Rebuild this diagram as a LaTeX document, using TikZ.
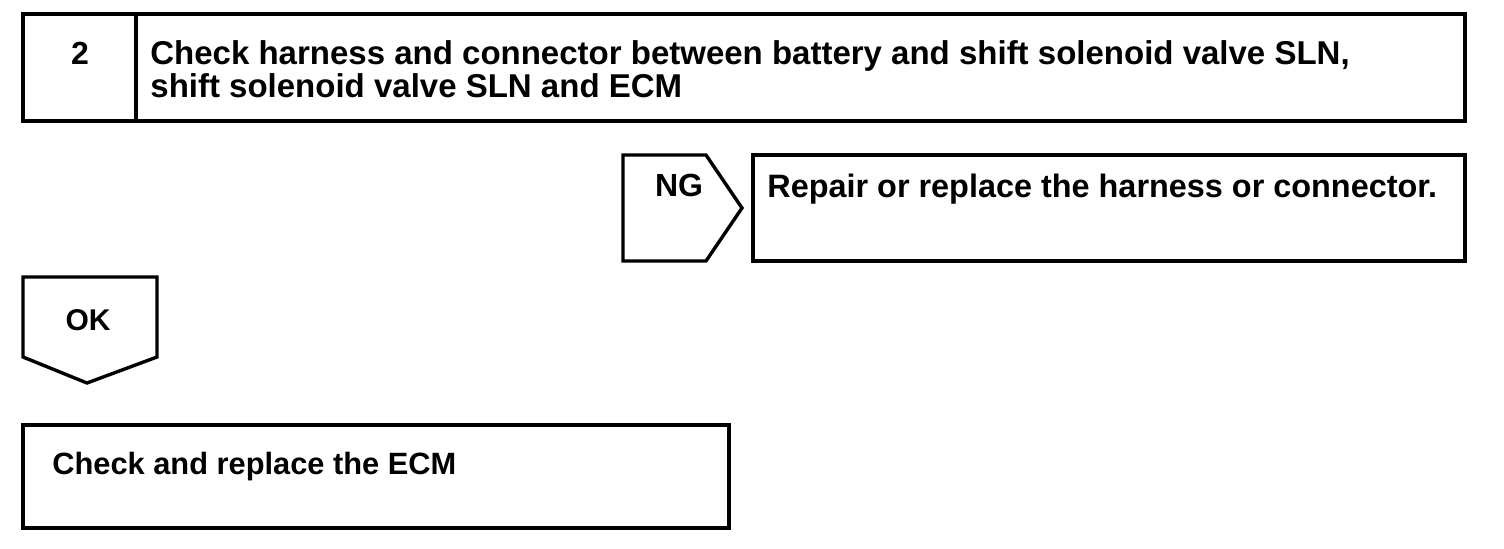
\documentclass[tikz,border=0pt]{standalone}
\usepackage{fontspec}
\setmainfont{Liberation Sans}
\begin{document}
\begin{tikzpicture}[x=0.5pt,y=-0.5pt,
  frame/.style={draw=black,line width=1.7pt,line join=miter},
  txt/.style={inner sep=0pt,anchor=base west},
  ctxt/.style={inner sep=0pt,anchor=base},
  fa/.style={font=\fontsize{16.5pt}{18pt}\selectfont\bfseries},
  fb/.style={font=\fontsize{16.2pt}{18pt}\selectfont\bfseries},
  fc/.style={font=\fontsize{15.4pt}{18pt}\selectfont\bfseries},
  fd/.style={font=\fontsize{16pt}{18pt}\selectfont\bfseries},
  fe/.style={font=\fontsize{15pt}{18pt}\selectfont\bfseries}]
\useasboundingbox (0,0) rectangle (1504,548);
% top box
\draw[frame] (23,14) rectangle (1465,121);
\draw[frame] (136,14) -- (136,121);
\node[ctxt,fd] (num) at (80,64) {2};
\node[txt,fa] (l1) at (150,64) {Check harness and connector between battery and shift solenoid valve SLN,};
\node[txt,fa] (l2) at (150,97) {shift solenoid valve SLN and ECM};
% NG pentagon
\coordinate (ng1) at (623,155);
\coordinate (ng2) at (706,155);
\coordinate (ng3) at (742,208);
\coordinate (ng4) at (706,261);
\coordinate (ng5) at (623,261);
\draw[frame] (ng1) -- (ng2) -- (ng3) -- (ng4) -- (ng5) -- cycle;
\node[ctxt,fd] (ng) at (679,196) {NG};
% repair box
\draw[frame] (753,155) rectangle (1465,261);
\node[txt,fb] (rep) at (767,197) {Repair or replace the harness or connector.};
% OK pentagon
\coordinate (ok1) at (23,277);
\coordinate (ok2) at (157,277);
\coordinate (ok3) at (157,357);
\coordinate (ok4) at (87,383);
\coordinate (ok5) at (23,357);
\draw[frame] (ok1) -- (ok2) -- (ok3) -- (ok4) -- (ok5) -- cycle;
\node[ctxt,fe] (ok) at (88,330) {OK};
% ECM box
\draw[frame] (23,425) rectangle (729,528);
\node[txt,fc] (ecm) at (52,474) {Check and replace the ECM};
\end{tikzpicture}
\end{document}
